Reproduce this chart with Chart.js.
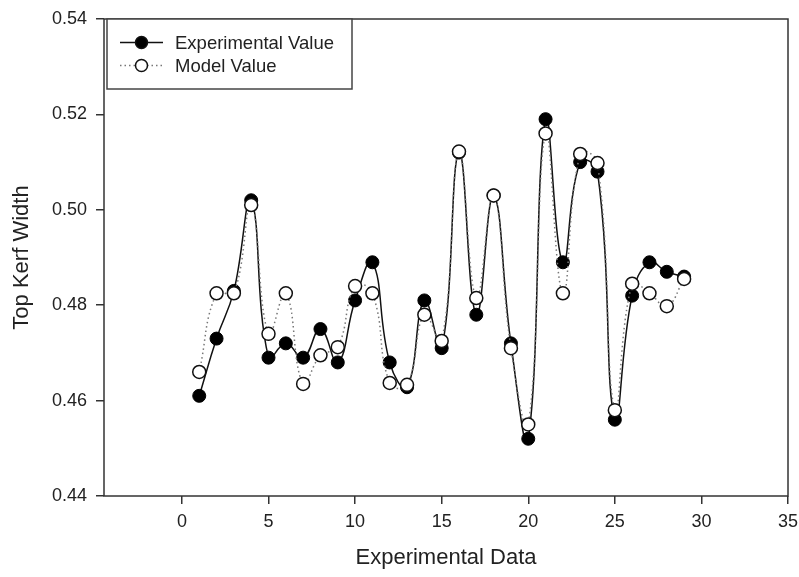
<!DOCTYPE html>
<html>
<head>
<meta charset="utf-8">
<script src="https://cdn.jsdelivr.net/npm/chart.js@4.4.1/dist/chart.umd.min.js"></script>
<style>
  html, body { margin: 0; padding: 0; background: #fff; }
  #wrap { width: 799px; height: 577px; }
</style>
</head>
<body>
<div id="wrap"><canvas id="grafico"></canvas></div>
<script>
// Datos
const experimentos = [1, 2, 3, 4, 5, 6, 7, 8, 9, 10, 11, 12, 13, 14, 15, 16, 17, 18, 19, 20, 21, 22, 23, 24, 25, 26, 27, 28, 29];
const valorExperimental = [0.461, 0.473, 0.483, 0.502, 0.469, 0.472, 0.469, 0.475, 0.468, 0.481, 0.489, 0.468, 0.4628, 0.481, 0.471, 0.512, 0.478, 0.503, 0.472, 0.452, 0.519, 0.489, 0.510, 0.508, 0.456, 0.482, 0.489, 0.487, 0.486];
const valorModelo = [0.466, 0.4825, 0.4825, 0.501, 0.474, 0.4825, 0.4635, 0.4695, 0.4712, 0.484, 0.4825, 0.4637, 0.4633, 0.478, 0.4725, 0.5122, 0.4815, 0.503, 0.471, 0.455, 0.516, 0.4825, 0.5117, 0.5098, 0.458, 0.4845, 0.4825, 0.4798, 0.4855];
const ticksX = [0, 5, 10, 15, 20, 25, 30, 35];
const ticksY = [0.44, 0.46, 0.48, 0.50, 0.52, 0.54];
const nombres = ["Experimental Value", "Model Value"];

const fuente = "'Liberation Sans', Arial, sans-serif";

// Marco alrededor del area y leyenda dentro del grafico
const marcoLeyenda = {
  id: 'marcoLeyenda',
  afterDraw(chart) {
    const { ctx, chartArea: a } = chart;
    ctx.save();
    ctx.strokeStyle = '#333';
    ctx.lineWidth = 1.5;
    ctx.strokeRect(a.left, a.top, a.right - a.left, a.bottom - a.top);

    // caja de la leyenda
    const bx = 107, by = 19, bw = 245, bh = 70;
    ctx.fillStyle = '#fff';
    ctx.fillRect(bx, by, bw, bh);
    ctx.strokeStyle = '#444';
    ctx.lineWidth = 1.5;
    ctx.strokeRect(bx, by, bw, bh);

    const filas = [42.5, 65.5];
    ctx.font = "18.5px " + fuente;
    ctx.textBaseline = 'middle';
    filas.forEach((fy, i) => {
      ctx.beginPath();
      ctx.strokeStyle = i === 0 ? '#111' : '#777';
      ctx.lineWidth = 1.5;
      ctx.setLineDash(i === 0 ? [] : [1.5, 3]);
      ctx.moveTo(120, fy);
      ctx.lineTo(163, fy);
      ctx.stroke();
      ctx.setLineDash([]);
      ctx.beginPath();
      ctx.arc(141.5, fy, 6, 0, Math.PI * 2);
      ctx.fillStyle = i === 0 ? '#000' : '#fff';
      ctx.fill();
      ctx.strokeStyle = '#111';
      ctx.lineWidth = 1.5;
      ctx.stroke();
      ctx.fillStyle = '#222';
      ctx.fillText(nombres[i], 175, fy + 1);
    });
    ctx.restore();
  }
};

new Chart(document.getElementById('grafico'), {
  type: 'line',
  data: {
    labels: experimentos,
    datasets: [{
      label: nombres[0],
      data: experimentos.map((x, i) => ({ x: x, y: valorExperimental[i] })),
      borderColor: '#111',
      borderWidth: 1.5,
      backgroundColor: '#000',
      pointBackgroundColor: '#000',
      pointBorderColor: '#000',
      pointRadius: 6.5,
      pointBorderWidth: 1,
      tension: 0.45,
      order: 1
    }, {
      label: nombres[1],
      data: experimentos.map((x, i) => ({ x: x, y: valorModelo[i] })),
      borderColor: '#777',
      borderWidth: 1.5,
      borderDash: [1.5, 3],
      pointBackgroundColor: '#fff',
      pointBorderColor: '#111',
      pointRadius: 6.5,
      pointBorderWidth: 1.5,
      tension: 0.45,
      order: 0
    }]
  },
  options: {
    responsive: true,
    maintainAspectRatio: false,
    animation: false,
    layout: { padding: { top: 19, right: 11, left: 0, bottom: 0 } },
    plugins: {
      legend: { display: false },
      tooltip: { enabled: false }
    },
    scales: {
      x: {
        type: 'linear',
        min: -4.5,
        max: 35,
        afterBuildTicks: (scale) => { scale.ticks = ticksX.map(v => ({ value: v })); },
        afterFit: (scale) => {
          scale.height = 81;
          scale.paddingLeft = 0;
          scale.paddingRight = 0;
        },
        grid: { drawOnChartArea: false, drawTicks: true, tickLength: 8, color: '#333', lineWidth: 1.5 },
        border: { display: false },
        ticks: { color: '#222', font: { family: fuente, size: 18 }, padding: 7, maxRotation: 0 },
        title: { display: true, text: 'Experimental Data', color: '#222', font: { family: fuente, size: 22 }, padding: { top: 0, bottom: 6 } }
      },
      y: {
        min: 0.44,
        max: 0.54,
        afterBuildTicks: (scale) => { scale.ticks = ticksY.map(v => ({ value: v })); },
        afterFit: (scale) => {
          scale.width = 104;
          scale.paddingTop = 0;
          scale.paddingBottom = 0;
        },
        grid: { drawOnChartArea: false, drawTicks: true, tickLength: 8, color: '#333', lineWidth: 1.5 },
        border: { display: false },
        ticks: { color: '#222', font: { family: fuente, size: 18 }, padding: 9, callback: (v) => v.toFixed(2) },
        title: { display: true, text: 'Top Kerf Width', color: '#222', font: { family: fuente, size: 22 }, padding: { top: 9, bottom: 0 } }
      }
    }
  },
  plugins: [marcoLeyenda]
});
</script>
</body>
</html>
